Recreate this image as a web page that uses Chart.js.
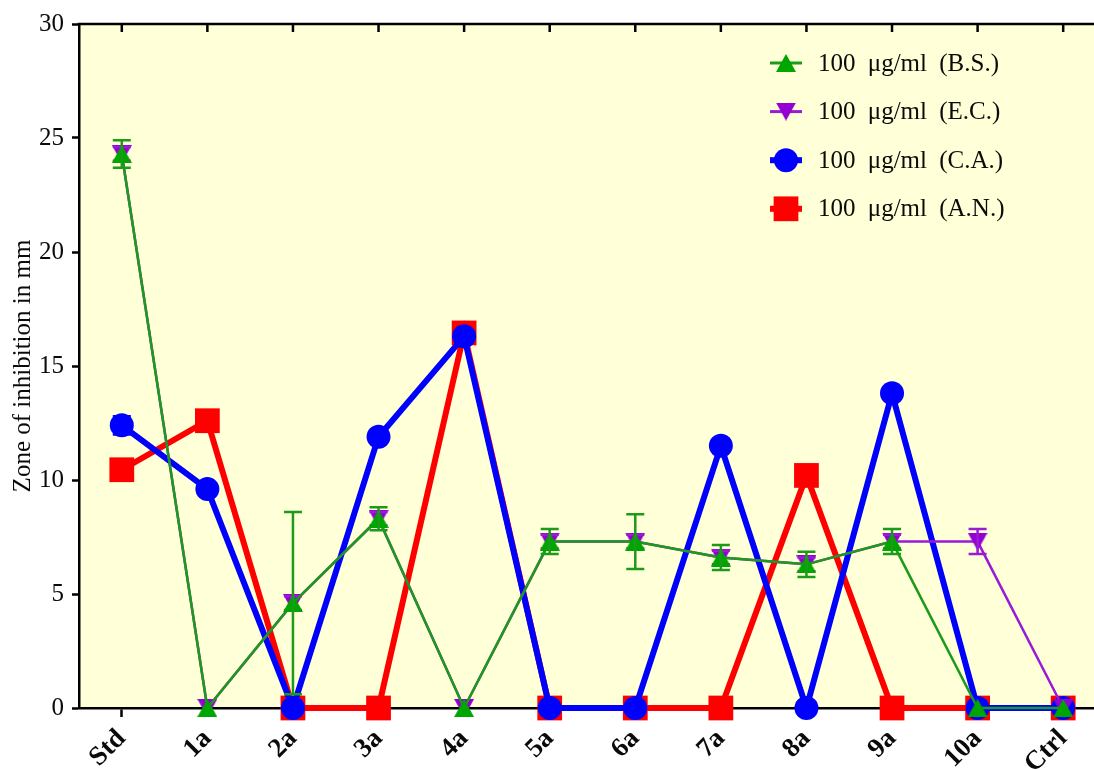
<!DOCTYPE html>
<html>
<head>
<meta charset="utf-8">
<script src="https://cdn.jsdelivr.net/npm/chart.js@4.4.1/dist/chart.umd.min.js"></script>
<style>
  html, body { margin: 0; padding: 0; overflow: hidden; background: #ffffff; }
  #c { display: block; }
</style>
</head>
<body>
<canvas id="c" width="1094" height="770"></canvas>
<script>
// ---------------- DATA ----------------
const categories = ['Std', '1a', '2a', '3a', '4a', '5a', '6a', '7a', '8a', '9a', '10a', 'Ctrl'];
const yTickValues = [0, 5, 10, 15, 20, 25, 30];
const yAxisTitle = 'Zone of inhibition in mm';

const seriesLabels = ['100 \u03bcg/ml (B.S.)', '100 \u03bcg/ml (E.C.)', '100 \u03bcg/ml (C.A.)', '100 \u03bcg/ml (A.N.)'];

const bsValues = [24.3, 0, 4.6, 8.3, 0, 7.3, 7.3, 6.6, 6.3, 7.3, 0, 0];
const bsErrors = [0.6, 0, 4.0, 0.5, 0, 0.55, 1.2, 0.55, 0.55, 0.55, 0, 0];

const ecValues = [24.3, 0, 4.6, 8.3, 0, 7.3, 7.3, 6.6, 6.3, 7.3, 7.3, 0];
const ecErrors = [0.3, 0, 0.3, 0.3, 0, 0.3, 0.3, 0.3, 0.3, 0.3, 0.55, 0];

const caValues = [12.4, 9.6, 0, 11.9, 16.3, 0, 0, 11.5, 0, 13.8, 0, 0];
const caErrors = [0.4, 0, 0, 0, 0, 0, 0, 0, 0, 0, 0, 0];

const anValues = [10.45, 12.6, 0, 0, 16.45, 0, 0, 0, 10.2, 0, 0, 0];
const anErrors = [0, 0, 0, 0, 0, 0, 0, 0, 0, 0, 0, 0];

// ---------------- STYLE ----------------
const FONT = "'Liberation Serif', 'Times New Roman', serif";
const TEXT = '#0a0a0a';
const PLOT_BG = '#ffffd8';

// triangle marker centred on its bounding box
function triangleImage(color, w, h, down) {
  const c = document.createElement('canvas');
  c.width = w; c.height = h;
  const g = c.getContext('2d');
  g.fillStyle = color;
  g.beginPath();
  if (down) { g.moveTo(0, 0); g.lineTo(w, 0); g.lineTo(w / 2, h); }
  else { g.moveTo(w / 2, 0); g.lineTo(w, h); g.lineTo(0, h); }
  g.closePath();
  g.fill();
  return c;
}

const upTri = triangleImage('#00a600', 20, 18, false);
const downTri = triangleImage('#9400d3', 20, 18, true);

const toPoints = (vals) => vals.map((v, i) => ({ x: i, y: v }));

const datasets = [
  { label: seriesLabels[0], data: toPoints(bsValues), errors: bsErrors,
    borderColor: '#1c9a1c', backgroundColor: '#00a600', borderWidth: 2.5,
    pointStyle: upTri, pointRadius: 10, errColor: '#1c9a1c' },
  { label: seriesLabels[1], data: toPoints(ecValues), errors: ecErrors,
    borderColor: '#9a1ad6', backgroundColor: '#9400d3', borderWidth: 2.5,
    pointStyle: downTri, pointRadius: 10, errColor: '#9a1ad6' },
  { label: seriesLabels[2], data: toPoints(caValues), errors: caErrors,
    borderColor: '#0000ff', backgroundColor: '#0000ff', borderWidth: 6,
    pointStyle: 'circle', pointRadius: 12, errColor: '#0000ff' },
  { label: seriesLabels[3], data: toPoints(anValues), errors: anErrors,
    borderColor: '#ff0000', backgroundColor: '#ff0000', borderWidth: 6,
    pointStyle: 'rect', pointRadius: 17.5, errColor: '#ff0000' }
].map(d => Object.assign(d, {
  pointBackgroundColor: d.backgroundColor,
  pointBorderColor: d.backgroundColor,
  pointBorderWidth: 0,
  pointHoverRadius: d.pointRadius,
  tension: 0,
  clip: false,
  fill: false
}));

// ---------------- PLUGINS ----------------
const plotBackground = {
  id: 'plotBackground',
  beforeDraw(chart) {
    const { ctx, chartArea: a } = chart;
    ctx.save();
    ctx.fillStyle = PLOT_BG;
    ctx.fillRect(a.left, a.top, a.right - a.left + 20, a.bottom - a.top);
    ctx.restore();
  }
};

const topFrame = {
  id: 'topFrame',
  beforeDatasetsDraw(chart) {
    const { ctx, chartArea: a, scales } = chart;
    ctx.save();
    ctx.strokeStyle = '#000';
    ctx.lineWidth = 2.5;
    ctx.beginPath();
    ctx.moveTo(a.left - 1.25, a.top);
    ctx.lineTo(a.right + 20, a.top);
    ctx.stroke();
    scales.x.ticks.forEach((t) => {
      const x = scales.x.getPixelForValue(t.value);
      ctx.beginPath();
      ctx.moveTo(x, a.top);
      ctx.lineTo(x, a.top + 8);
      ctx.stroke();
    });
    ctx.restore();
  }
};

const errorBars = {
  id: 'errorBars',
  afterDatasetDraw(chart, args) {
    const ds = chart.data.datasets[args.index];
    if (!ds.errors) return;
    const { ctx } = chart;
    const xs = chart.scales.x, ys = chart.scales.y;
    ctx.save();
    ctx.strokeStyle = ds.errColor;
    ctx.lineWidth = 2.5;
    ds.data.forEach((p, i) => {
      const e = ds.errors[i];
      if (!e) return;
      const x = xs.getPixelForValue(p.x);
      const yTop = ys.getPixelForValue(p.y + e);
      const yBot = ys.getPixelForValue(Math.max(0, p.y - e));
      const half = 9;
      ctx.beginPath();
      ctx.moveTo(x, yTop); ctx.lineTo(x, yBot);
      ctx.moveTo(x - half, yTop); ctx.lineTo(x + half, yTop);
      ctx.moveTo(x - half, yBot); ctx.lineTo(x + half, yBot);
      ctx.stroke();
    });
    ctx.restore();
  }
};

const insideLegend = {
  id: 'insideLegend',
  afterDraw(chart) {
    const { ctx } = chart;
    const markerX = 786, textX = 818, firstY = 63, gap = 48.6, half = 16;
    chart.data.datasets.forEach((ds, i) => {
      const y = firstY + i * gap;
      ctx.save();
      ctx.strokeStyle = ds.borderColor;
      ctx.lineWidth = ds.borderWidth > 3 ? 6 : 3;
      ctx.beginPath();
      ctx.moveTo(markerX - half, y);
      ctx.lineTo(markerX + half, y);
      ctx.stroke();
      ctx.fillStyle = ds.backgroundColor;
      ctx.strokeStyle = ds.backgroundColor;
      Chart.helpers.drawPoint(ctx, {
        pointStyle: ds.pointStyle,
        radius: ds.pointRadius,
        rotation: 0,
        borderWidth: 0
      }, markerX, y);
      ctx.fillStyle = TEXT;
      ctx.font = '25px ' + FONT;
      try { ctx.wordSpacing = '6px'; } catch (e) {}
      ctx.textBaseline = 'middle';
      ctx.textAlign = 'left';
      ctx.fillText(ds.label, textX, y + 1);
      ctx.restore();
    });
  }
};

// ---------------- CHART ----------------
new Chart(document.getElementById('c'), {
  type: 'line',
  data: { datasets },
  plugins: [plotBackground, topFrame, errorBars, insideLegend],
  options: {
    responsive: false,
    animation: false,
    devicePixelRatio: 1,
    layout: { autoPadding: false, padding: { left: 0, top: 24, right: 0, bottom: 0 } },
    plugins: { legend: { display: false }, tooltip: { enabled: false } },
    scales: {
      x: {
        type: 'linear',
        min: -0.5,
        max: 11.36,
        afterBuildTicks(s) { s.ticks = categories.map((c, i) => ({ value: i })); },
        grid: { display: true, drawOnChartArea: false, drawTicks: true, tickLength: 9,
                tickWidth: 2.5, tickColor: '#000' },
        border: { display: true, color: '#000', width: 2.5 },
        ticks: { color: TEXT, font: { family: FONT, size: 27, weight: 'bold' },
                 minRotation: 45, maxRotation: 45, padding: 6, autoSkip: false,
                 callback: (v) => categories[v] },
        afterFit(s) { s.height = 62; s.paddingLeft = 0; s.paddingRight = 0; }
      },
      y: {
        min: 0, max: 30,
        afterBuildTicks(s) { s.ticks = yTickValues.map(v => ({ value: v })); },
        grid: { display: true, drawOnChartArea: false, drawTicks: true, tickLength: 7,
                tickWidth: 2.5, tickColor: '#000' },
        border: { display: true, color: '#000', width: 2.5 },
        ticks: { color: TEXT, font: { family: FONT, size: 25 }, padding: 8 },
        title: { display: true, text: yAxisTitle, color: TEXT,
                 font: { family: FONT, size: 25 }, padding: { top: 8, bottom: 0 } },
        afterFit(s) { s.width = 79; s.paddingTop = 0; s.paddingBottom = 0; }
      }
    }
  }
});
</script>
</body>
</html>
